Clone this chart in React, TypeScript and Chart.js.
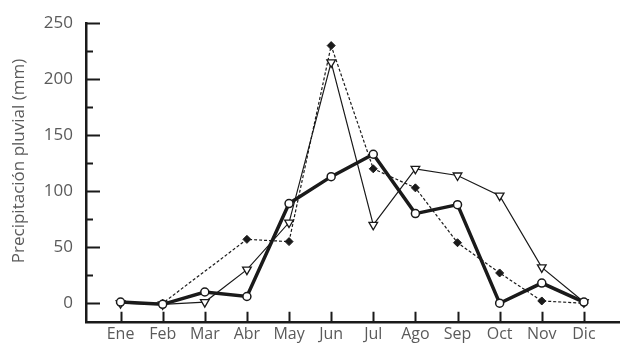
import React, { useEffect, useRef } from "react";
import { Chart, registerables } from "chart.js";

Chart.register(...registerables);

// Monthly rainfall, three records
const months = ["Ene", "Feb", "Mar", "Abr", "May", "Jun", "Jul", "Ago", "Sep", "Oct", "Nov", "Dic"];
const serieCirculos = [1, -1, 10, 6, 89, 113, 133, 80, 88, 0, 18, 1];
const serieTriangulos = [0, -1, 1, 30, 72, 215, 70, 120, 114, 96, 32, 1];
const serieRombos = [0, 0, null, 57, 55, 230, 120, 103, 54, 27, 2, 0];
const yMajorTicks = [0, 50, 100, 150, 200, 250];
const yMinorTicks = [25, 75, 125, 175, 225];
const yTitle = "Precipitación pluvial (mm)";

const INK = "#1a1a1a";
const TEXT = "#5a5a5a";
const FONT = "'Open Sans', sans-serif";

const toPoints = (vals: (number | null)[]) => vals.map((v, i) => ({ x: i, y: v }));

// Inward tick marks on both axes and the rotated y title
const axisDecor = {
  id: "axisDecor",
  afterDraw(chart: any) {
    const { ctx, chartArea, scales } = chart;
    const xs = scales.x;
    const ys = scales.y;
    ctx.save();
    ctx.strokeStyle = INK;
    ctx.lineWidth = 2;
    ctx.beginPath();
    for (const v of yMajorTicks) {
      const py = Math.round(ys.getPixelForValue(v)) + 0.5;
      ctx.moveTo(chartArea.left, py);
      ctx.lineTo(chartArea.left + 14, py);
    }
    for (const v of yMinorTicks) {
      const py = Math.round(ys.getPixelForValue(v)) + 0.5;
      ctx.moveTo(chartArea.left, py);
      ctx.lineTo(chartArea.left + 7, py);
    }
    months.forEach((_, i) => {
      const px = Math.round(xs.getPixelForValue(i)) + 0.5;
      ctx.moveTo(px, chartArea.bottom);
      ctx.lineTo(px, chartArea.bottom - 10);
    });
    ctx.stroke();

    ctx.translate(19, 161);
    ctx.rotate(-Math.PI / 2);
    ctx.fillStyle = TEXT;
    ctx.font = `17px ${FONT}`;
    ctx.textAlign = "center";
    ctx.textBaseline = "middle";
    ctx.fillText(yTitle, 0, 0);
    ctx.restore();
  },
};

export default function App() {
  const canvasRef = useRef<HTMLCanvasElement | null>(null);

  useEffect(() => {
    if (!canvasRef.current) return;
    const chart = new Chart(canvasRef.current, {
      type: "line",
      data: {
        datasets: [
          {
            data: toPoints(serieCirculos),
            borderColor: INK,
            borderWidth: 3.5,
            pointStyle: "circle",
            pointRadius: 4,
            pointBackgroundColor: "#fff",
            pointBorderColor: INK,
            pointBorderWidth: 1.5,
            order: 0,
          },
          {
            data: toPoints(serieTriangulos),
            borderColor: INK,
            borderWidth: 1.2,
            pointStyle: "triangle",
            pointRotation: 180,
            pointRadius: 5,
            pointBackgroundColor: "#fff",
            pointBorderColor: INK,
            pointBorderWidth: 1.3,
            order: 1,
          },
          {
            data: toPoints(serieRombos),
            borderColor: INK,
            borderWidth: 1.2,
            borderDash: [3, 2],
            spanGaps: true,
            pointStyle: "rectRot",
            pointRadius: 4,
            pointBackgroundColor: INK,
            pointBorderColor: INK,
            pointBorderWidth: 1,
            order: 2,
          },
        ],
      },
      options: {
        animation: false,
        responsive: false,
        layout: { padding: { top: 18, right: 1, left: 0, bottom: 0 } },
        plugins: {
          legend: { display: false },
          tooltip: { enabled: false },
        },
        scales: {
          x: {
            type: "linear",
            min: -0.82,
            max: 11.85,
            grid: { display: false, drawTicks: false },
            border: { display: true, color: INK, width: 2.5 },
            afterBuildTicks: (s: any) => {
              s.ticks = months.map((_, i) => ({ value: i }));
            },
            afterFit: (s: any) => {
              s.height = 22;
            },
            ticks: {
              autoSkip: false,
              maxRotation: 0,
              padding: 3,
              color: TEXT,
              font: { family: FONT, size: 16 },
              callback: (v: any) => months[v as number] ?? "",
            },
          },
          y: {
            type: "linear",
            min: -16.6,
            max: 250,
            grid: { display: false, drawTicks: false },
            border: { display: true, color: INK, width: 2.5 },
            afterBuildTicks: (s: any) => {
              s.ticks = yMajorTicks.map((v) => ({ value: v }));
            },
            afterFit: (s: any) => {
              s.width = 86;
            },
            ticks: {
              padding: 13,
              color: TEXT,
              font: { family: FONT, size: 17 },
            },
          },
        },
      },
      plugins: [axisDecor],
    });
    return () => chart.destroy();
  }, []);

  return (
    <div style={{ position: "absolute", left: 0, top: 0, width: 626, height: 345, background: "#fff" }}>
      <canvas ref={canvasRef} width={626} height={345} style={{ display: "block" }} />
    </div>
  );
}
